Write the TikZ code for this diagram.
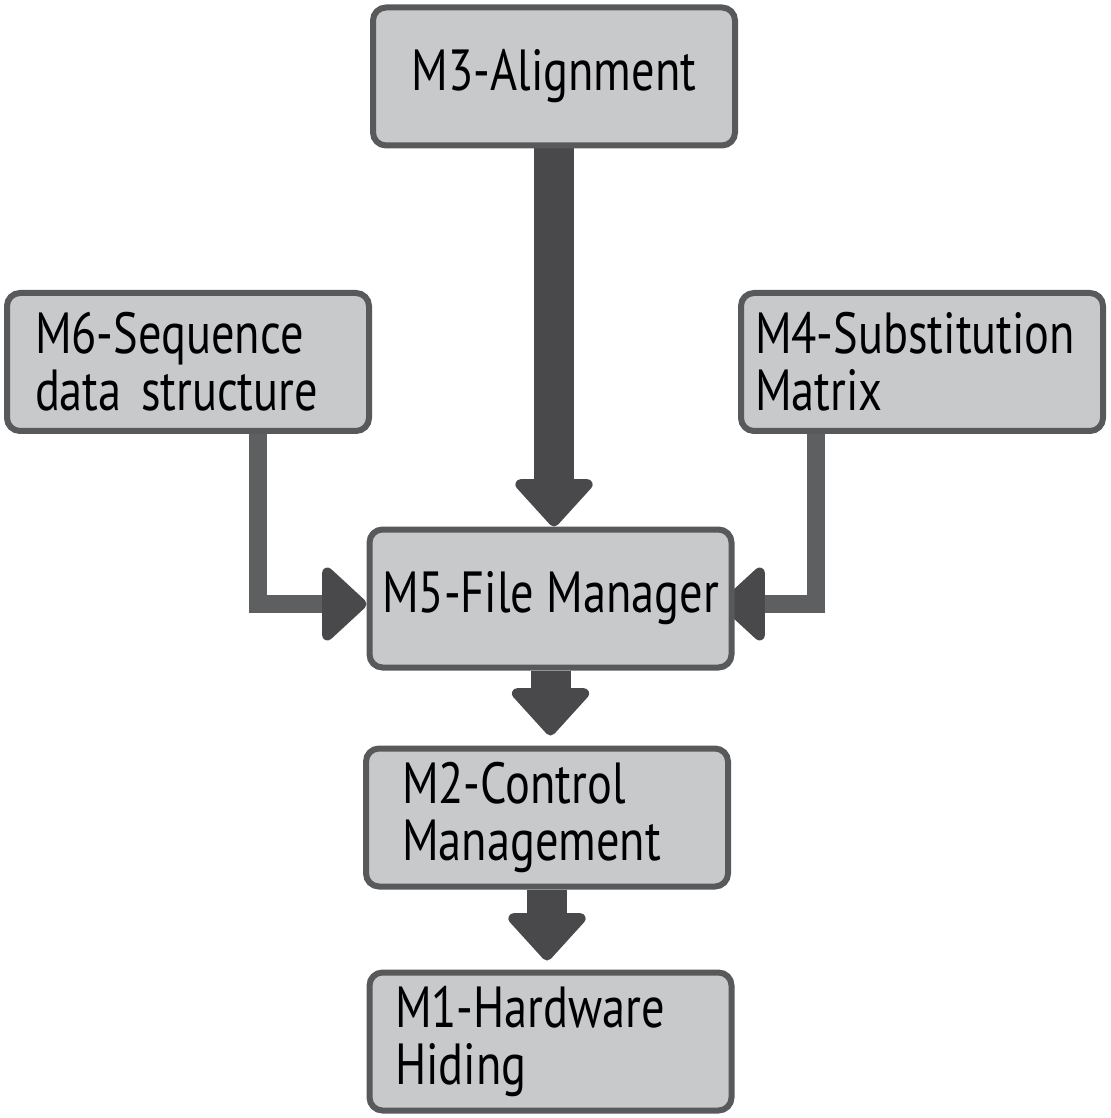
\documentclass[tikz,border=0pt]{standalone}
\usepackage{fontspec}
\setmainfont{PT Sans}[FakeStretch=0.80]
\usetikzlibrary{arrows.meta,backgrounds}
\definecolor{boxfill}{RGB}{200,201,203}
\definecolor{boxline}{RGB}{88,89,91}
\definecolor{arrowdark}{RGB}{73,73,75}
\definecolor{sidegray}{RGB}{94,95,97}
\begin{document}
\begin{tikzpicture}[
	modbox/.style={draw=boxline,fill=boxfill,line width=0.06cm,rounded corners=0.13cm,minimum width=3.62cm,minimum height=1.38cm,inner sep=0pt,font=\fontsize{16.5}{16.2}\selectfont},
	leftbox/.style={modbox,text width=#1,align=left},
	bigarrow/.style={draw=arrowdark,line width=0.40cm,-{Triangle[width=0.88cm,length=0.50cm,line width=3pt,round]}},
	sidearrow/.style={draw=sidegray,line width=0.18cm,-{Triangle[width=0.84cm,length=0.47cm,line width=3pt,round,color=arrowdark]}}]
	\useasboundingbox (0,0) rectangle (11.10,-11.18);
	%\draw[step=0.5,gray!30] (0,0) grid (11.1,-11.18); %Hilfsgitter
	\node[modbox] (M3) at (5.54,-0.765) {M3-Alignment};
	\node[leftbox=3.06cm] (M6) at (1.88,-3.62) {M6-Sequence\\data structure}; \node[leftbox=3.34cm] (M4) at (9.22,-3.62) {M4-Substitution\\Matrix};
	\node[modbox] (M5) at (5.505,-5.985) {M5-File Manager};
	\node[leftbox=2.90cm] (M2) at (5.47,-8.175) {M2-Control\\Management};
	\node[leftbox=3.11cm] (M1) at (5.505,-10.415) {M1-Hardware\\Hiding};
	
	\coordinate (m6out) at ([xshift=0.70cm]M6.south); \coordinate (m4out) at ([xshift=-1.06cm]M4.south);
	\begin{pgfonlayer}{background}
		\draw[bigarrow] (M3.south) -- (M3.south |- M5.north);
		\draw[bigarrow,shorten >=0.1cm] (M5.south) -- (M5.south |- M2.north); \draw[bigarrow,shorten >=0.09cm] (M2.south) -- (M2.south |- M1.north);
		\draw[sidearrow] (m6out) |- ([yshift=-0.055cm]M5.west); \draw[sidearrow] (m4out) |- ([xshift=-0.14cm,yshift=-0.055cm]M5.east);
	\end{pgfonlayer}
\end{tikzpicture}
\end{document}
